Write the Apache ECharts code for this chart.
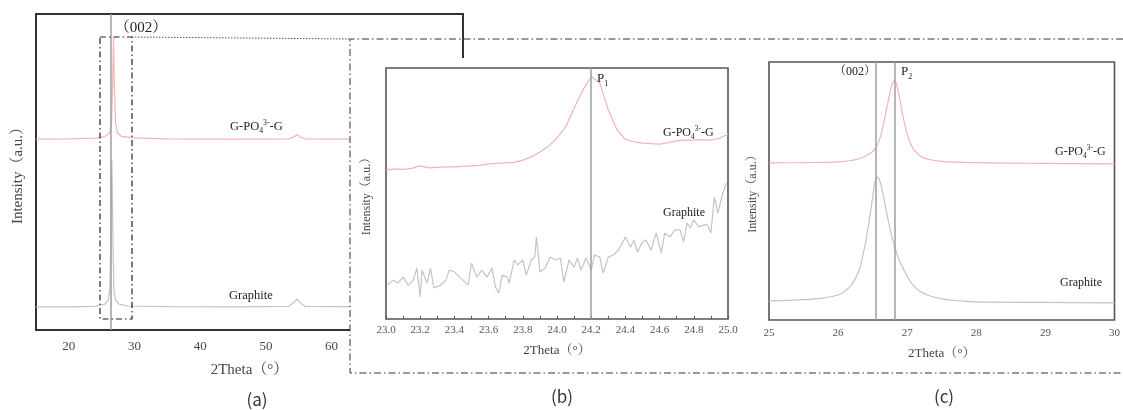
<!DOCTYPE html>
<html>
<head>
<meta charset="utf-8">
<title>XRD (002)</title>
<script src="https://cdn.jsdelivr.net/npm/echarts@6/dist/echarts.min.js"></script>
<style>
html, body { margin: 0; padding: 0; background: #fff; }
#chart { width: 1123px; height: 410px; }
</style>
</head>
<body>
<div id="chart"></div>
<script>
// ---- (a) full scan 15-80 ----
var aTicks = [20, 30, 40, 50, 60, 70, 80];
var aComposite = [[15,60.4],[20,60.5],[24,60.7],[25.5,61.2],[26.2,62.4],[26.5,65.5],[26.65,76],[26.8,92.7],[26.95,76],[27.1,65.5],[27.4,62.4],[28,61.3],[30,60.8],[35,60.5],[45,60.4],[53.5,60.5],[54.3,61.2],[54.8,61.8],[55.3,61.0],[56,60.5],[65,60.4],[80,60.4]];
var aGraphite = [[15,7.3],[20,7.3],[24,7.5],[25.5,8.2],[26.0,9.5],[26.25,13],[26.4,30],[26.55,53.8],[26.7,30],[26.85,13],[27.1,9.5],[27.6,8.2],[29,7.6],[35,7.4],[45,7.3],[53.5,7.5],[54.3,8.8],[54.75,9.8],[55.2,8.6],[56,7.5],[65,7.3],[80,7.3]];
var aPeakLine = [26.45];

// ---- (b) zoom 23-25 ----
var bComposite = [[23.00,59.4],[23.05,59.8],[23.10,59.6],[23.15,60.0],[23.20,61.0],[23.25,60.2],[23.30,60.4],[23.35,60.6],[23.40,60.6],[23.45,60.8],[23.50,61.0],[23.55,61.2],[23.60,61.8],[23.65,62.0],[23.70,62.2],[23.75,62.4],[23.80,63.3],[23.85,64.6],[23.90,66.5],[23.95,68.8],[24.00,72.1],[24.05,76.5],[24.10,84.0],[24.15,91.0],[24.20,96.6],[24.25,94.0],[24.30,83.3],[24.35,75.5],[24.40,71.5],[24.45,70.6],[24.50,70.1],[24.55,69.9],[24.60,69.7],[24.65,70.3],[24.70,71.0],[24.75,71.3],[24.80,71.3],[24.85,71.5],[24.90,71.3],[24.95,72.0],[25.00,73.7]];
var bGraphite = [[23.01,13.5],[23.04,15.5],[23.07,14.3],[23.10,16.7],[23.13,13.5],[23.16,15.5],[23.18,20.3],[23.20,8.8],[23.21,19.5],[23.24,14.3],[23.26,20.3],[23.28,12.4],[23.32,13.5],[23.35,15.5],[23.37,19.5],[23.40,18.7],[23.43,16.7],[23.45,15.5],[23.48,13.5],[23.50,22.3],[23.53,16.7],[23.56,19.5],[23.59,16.7],[23.62,20.3],[23.64,12.7],[23.66,10.4],[23.68,17.5],[23.71,16.7],[23.72,14.3],[23.75,23.5],[23.77,21.5],[23.80,23.5],[23.82,17.5],[23.85,23.5],[23.87,24.7],[23.88,32.7],[23.90,18.7],[23.93,20.3],[23.96,24.7],[23.99,23.5],[24.02,24.3],[24.04,14.7],[24.07,23.5],[24.10,20.7],[24.12,24.3],[24.14,19.5],[24.17,24.3],[24.20,19.5],[24.22,25.5],[24.25,24.7],[24.27,18.3],[24.30,24.7],[24.33,25.5],[24.36,27.5],[24.40,32.7],[24.43,28.7],[24.45,31.5],[24.47,26.7],[24.50,30.7],[24.52,31.5],[24.55,27.5],[24.58,34.3],[24.61,26.3],[24.63,34.3],[24.66,32.7],[24.69,35.5],[24.72,35.5],[24.74,30.7],[24.76,38.2],[24.78,36.3],[24.80,39.4],[24.83,36.7],[24.86,37.5],[24.88,37.5],[24.90,34.3],[24.92,48.6],[24.94,42.2],[24.97,50.2],[24.99,54.2]];
var bPeakLine = [24.2];

// ---- (c) zoom 25-30 ----
var cComposite = [[25.0,60.9],[25.5,61.0],[26.0,61.3],[26.2,61.9],[26.3,62.5],[26.4,63.6],[26.5,65.3],[26.55,67.0],[26.6,70.0],[26.65,75.0],[26.7,81.5],[26.75,88.0],[26.79,92.0],[26.82,92.6],[26.85,91.0],[26.9,84.5],[26.95,77.5],[27.0,72.0],[27.05,68.3],[27.1,65.8],[27.2,63.4],[27.3,62.3],[27.5,61.5],[28.0,61.0],[29.0,60.7],[30.0,60.5]];
var cGraphite = [[25.0,7.4],[25.5,7.9],[25.8,8.6],[26.0,9.7],[26.1,11.2],[26.2,13.8],[26.3,19.0],[26.35,24.0],[26.4,30.5],[26.45,38.5],[26.5,47.5],[26.53,53.0],[26.56,55.4],[26.6,54.2],[26.65,49.0],[26.7,42.0],[26.75,35.5],[26.8,30.0],[26.85,25.8],[26.9,22.3],[27.0,16.9],[27.1,13.0],[27.2,10.9],[27.3,9.6],[27.5,8.2],[27.8,7.3],[28.0,7.0],[29.0,6.8],[30.0,6.6]];
var cPeakLines = [26.55, 26.82];

var PINK = '#f2b4b4', GREY = '#c4c4c4', VLINE = '#9e9e9e';
var SERIF = '"Liberation Serif", "Times New Roman", "Noto Serif CJK SC", "Noto Sans CJK SC", serif';
var SANS = '"Noto Sans CJK SC", "Noto Sans", sans-serif';

function xAx(idx, min, max, opt) {
  return {
    type: 'value', gridIndex: idx, min: min, max: max,
    name: '2Theta（°）', nameLocation: 'middle', nameGap: opt.nameGap,
    nameTextStyle: { fontFamily: SERIF, fontSize: opt.nameSize, color: '#444' },
    axisLine: { show: false }, splitLine: { show: false },
    axisTick: { show: false },
    axisLabel: { fontFamily: SERIF, fontSize: opt.labelSize, color: opt.labelColor, margin: opt.margin },
    z: opt.z || 0
  };
}
function yAx(idx, opt) {
  return {
    type: 'value', gridIndex: idx, min: 0, max: 100,
    name: 'Intensity（a.u.）', nameLocation: 'middle', nameGap: opt.nameGap,
    nameTextStyle: { fontFamily: SERIF, fontSize: opt.nameSize, color: '#444' },
    axisLine: { show: false }, axisTick: { show: false }, axisLabel: { show: false },
    splitLine: { show: false }, z: opt.z || 0
  };
}
function vLines(vals, z) {
  return {
    silent: true, symbol: ['none', 'none'], label: { show: false }, z: z,
    lineStyle: { color: VLINE, width: 1.5, type: 'solid' },
    data: vals.map(function (v) { return { xAxis: v }; })
  };
}
function line(name, xi, data, color, z, smooth, ml) {
  var s = {
    name: name, type: 'line', xAxisIndex: xi, yAxisIndex: xi, data: data,
    showSymbol: false, symbol: 'none', smooth: smooth, z: z, silent: true,
    lineStyle: { color: color, width: 1.2 }, animation: false
  };
  if (ml) s.markLine = ml;
  return s;
}
function richLabel(x, y, size, z) {
  return {
    type: 'text', x: x, y: y, z: z,
    style: {
      text: '{m|G-PO}{s|4}{p|3-}{m|-G}',
      align: 'left', verticalAlign: 'middle', textAlign: 'left', textVerticalAlign: 'middle',
      rich: {
        m: { fontFamily: SERIF, fontSize: size, fill: '#222', lineHeight: size + 4 },
        s: { fontFamily: SERIF, fontSize: size * 0.62, fill: '#222', verticalAlign: 'bottom', lineHeight: size * 0.62 },
        p: { fontFamily: SERIF, fontSize: size * 0.62, fill: '#222', verticalAlign: 'top', lineHeight: size * 0.62 }
      }
    }
  };
}
function pLabel(x, y, n, z) {
  return {
    type: 'text', x: x, y: y, z: z,
    style: {
      text: '{m|P}{s|' + n + '}',
      align: 'left', verticalAlign: 'middle', textAlign: 'left', textVerticalAlign: 'middle',
      rich: {
        m: { fontFamily: SERIF, fontSize: 13, fill: '#222', lineHeight: 17 },
        s: { fontFamily: SERIF, fontSize: 8, fill: '#222', verticalAlign: 'bottom', lineHeight: 8 }
      }
    }
  };
}
function txt(x, y, s, font, align, z, color) {
  return {
    type: 'text', x: x, y: y, z: z,
    style: { text: s, font: font, fill: color || '#222', align: align, verticalAlign: 'middle', textAlign: align, textVerticalAlign: 'middle' }
  };
}

var chart = echarts.init(document.getElementById('chart'), null, { renderer: 'canvas' });

var ax = xAx(0, 15, 80, { nameGap: 33, nameSize: 15, labelSize: 13, labelColor: '#444', margin: 10 });
ax.axisLabel.customValues = aTicks;

var bx = xAx(1, 23, 25, { nameGap: 25, nameSize: 13, labelSize: 11, labelColor: '#555', margin: 6, z: 10 });
bx.interval = 0.2;
bx.axisTick = { show: true, inside: true, length: 3, lineStyle: { color: '#555', width: 1 } };
bx.minorTick = { show: true, splitNumber: 2, length: 3, lineStyle: { color: '#555', width: 1 } };
bx.axisLabel.formatter = function (v) { return v.toFixed(1); };

var cx = xAx(2, 25, 30, { nameGap: 27, nameSize: 13, labelSize: 11, labelColor: '#555', margin: 8, z: 10 });
cx.interval = 1;

var option = {
  backgroundColor: '#fff',
  animation: false,
  grid: [
    { left: 36, top: 14, width: 427, height: 316, show: true, borderColor: '#333', borderWidth: 2, backgroundColor: 'transparent', z: 0 },
    { left: 386, top: 68, width: 342, height: 251, show: true, borderColor: '#555', borderWidth: 1.6, backgroundColor: 'transparent', z: 10 },
    { left: 769, top: 62, width: 349, height: 258, show: true, borderColor: '#555', borderWidth: 1.6, backgroundColor: 'transparent', z: 10 }
  ],
  xAxis: [ax, bx, cx],
  yAxis: [
    yAx(0, { nameGap: 10, nameSize: 15 }),
    yAx(1, { nameGap: 13, nameSize: 12, z: 10 }),
    yAx(2, { nameGap: 10, nameSize: 12, z: 10 })
  ],
  series: [
    line('G-PO4-G (a)', 0, aComposite, PINK, 2, false, vLines(aPeakLine, 3)),
    line('Graphite (a)', 0, aGraphite, GREY, 2, false),
    line('G-PO4-G (b)', 1, bComposite, PINK, 11, false, vLines(bPeakLine, 12)),
    line('Graphite (b)', 1, bGraphite, GREY, 11, false),
    line('G-PO4-G (c)', 2, cComposite, PINK, 11, 0.4, vLines(cPeakLines, 12)),
    line('Graphite (c)', 2, cGraphite, GREY, 11, 0.4)
  ],
  graphic: { elements: [
    // white sheet of the inset panels, lying over the right part of (a)
    { type: 'rect', z: 5, silent: true, shape: { x: 350, y: 58, width: 773, height: 352 }, style: { fill: '#fff' } },
    // dash-dot frames
    { type: 'rect', z: 30, silent: true, shape: { x: 100, y: 37, width: 32, height: 282 },
      style: { fill: 'none', stroke: '#222', lineWidth: 1.2, lineDash: [6, 3, 1.5, 3] } },
    { type: 'line', z: 30, silent: true, shape: { x1: 132, y1: 37, x2: 350, y2: 39 },
      style: { stroke: '#555', lineWidth: 1, lineDash: [1.5, 1.5] } },
    { type: 'polyline', z: 30, silent: true, shape: { points: [[1123, 39], [350, 39], [350, 373], [1123, 373]] },
      style: { fill: 'none', stroke: '#333', lineWidth: 1, lineDash: [7, 3, 1.5, 3] } },
    // (a) labels
    txt(141, 28, '（002）', '15px ' + SERIF, 'center', 30),
    richLabel(230, 127, 12.5, 30),
    txt(229, 296, 'Graphite', '12.5px ' + SERIF, 'left', 30),
    // (b) labels
    pLabel(597, 79, '1', 30),
    richLabel(663, 133, 12, 30),
    txt(663, 213, 'Graphite', '12px ' + SERIF, 'left', 30),
    // (c) labels
    txt(855, 72, '（002）', '12px ' + SERIF, 'center', 30),
    pLabel(901, 72, '2', 30),
    richLabel(1055, 152, 12, 30),
    txt(1060, 283, 'Graphite', '12px ' + SERIF, 'left', 30),
    // panel letters
    txt(257, 400, '(a)', '17px ' + SANS, 'center', 30, '#333'),
    txt(562, 397, '(b)', '17px ' + SANS, 'center', 30, '#333'),
    txt(944, 397, '(c)', '17px ' + SANS, 'center', 30, '#333')
  ] }
};

chart.setOption(option);
</script>
</body>
</html>
